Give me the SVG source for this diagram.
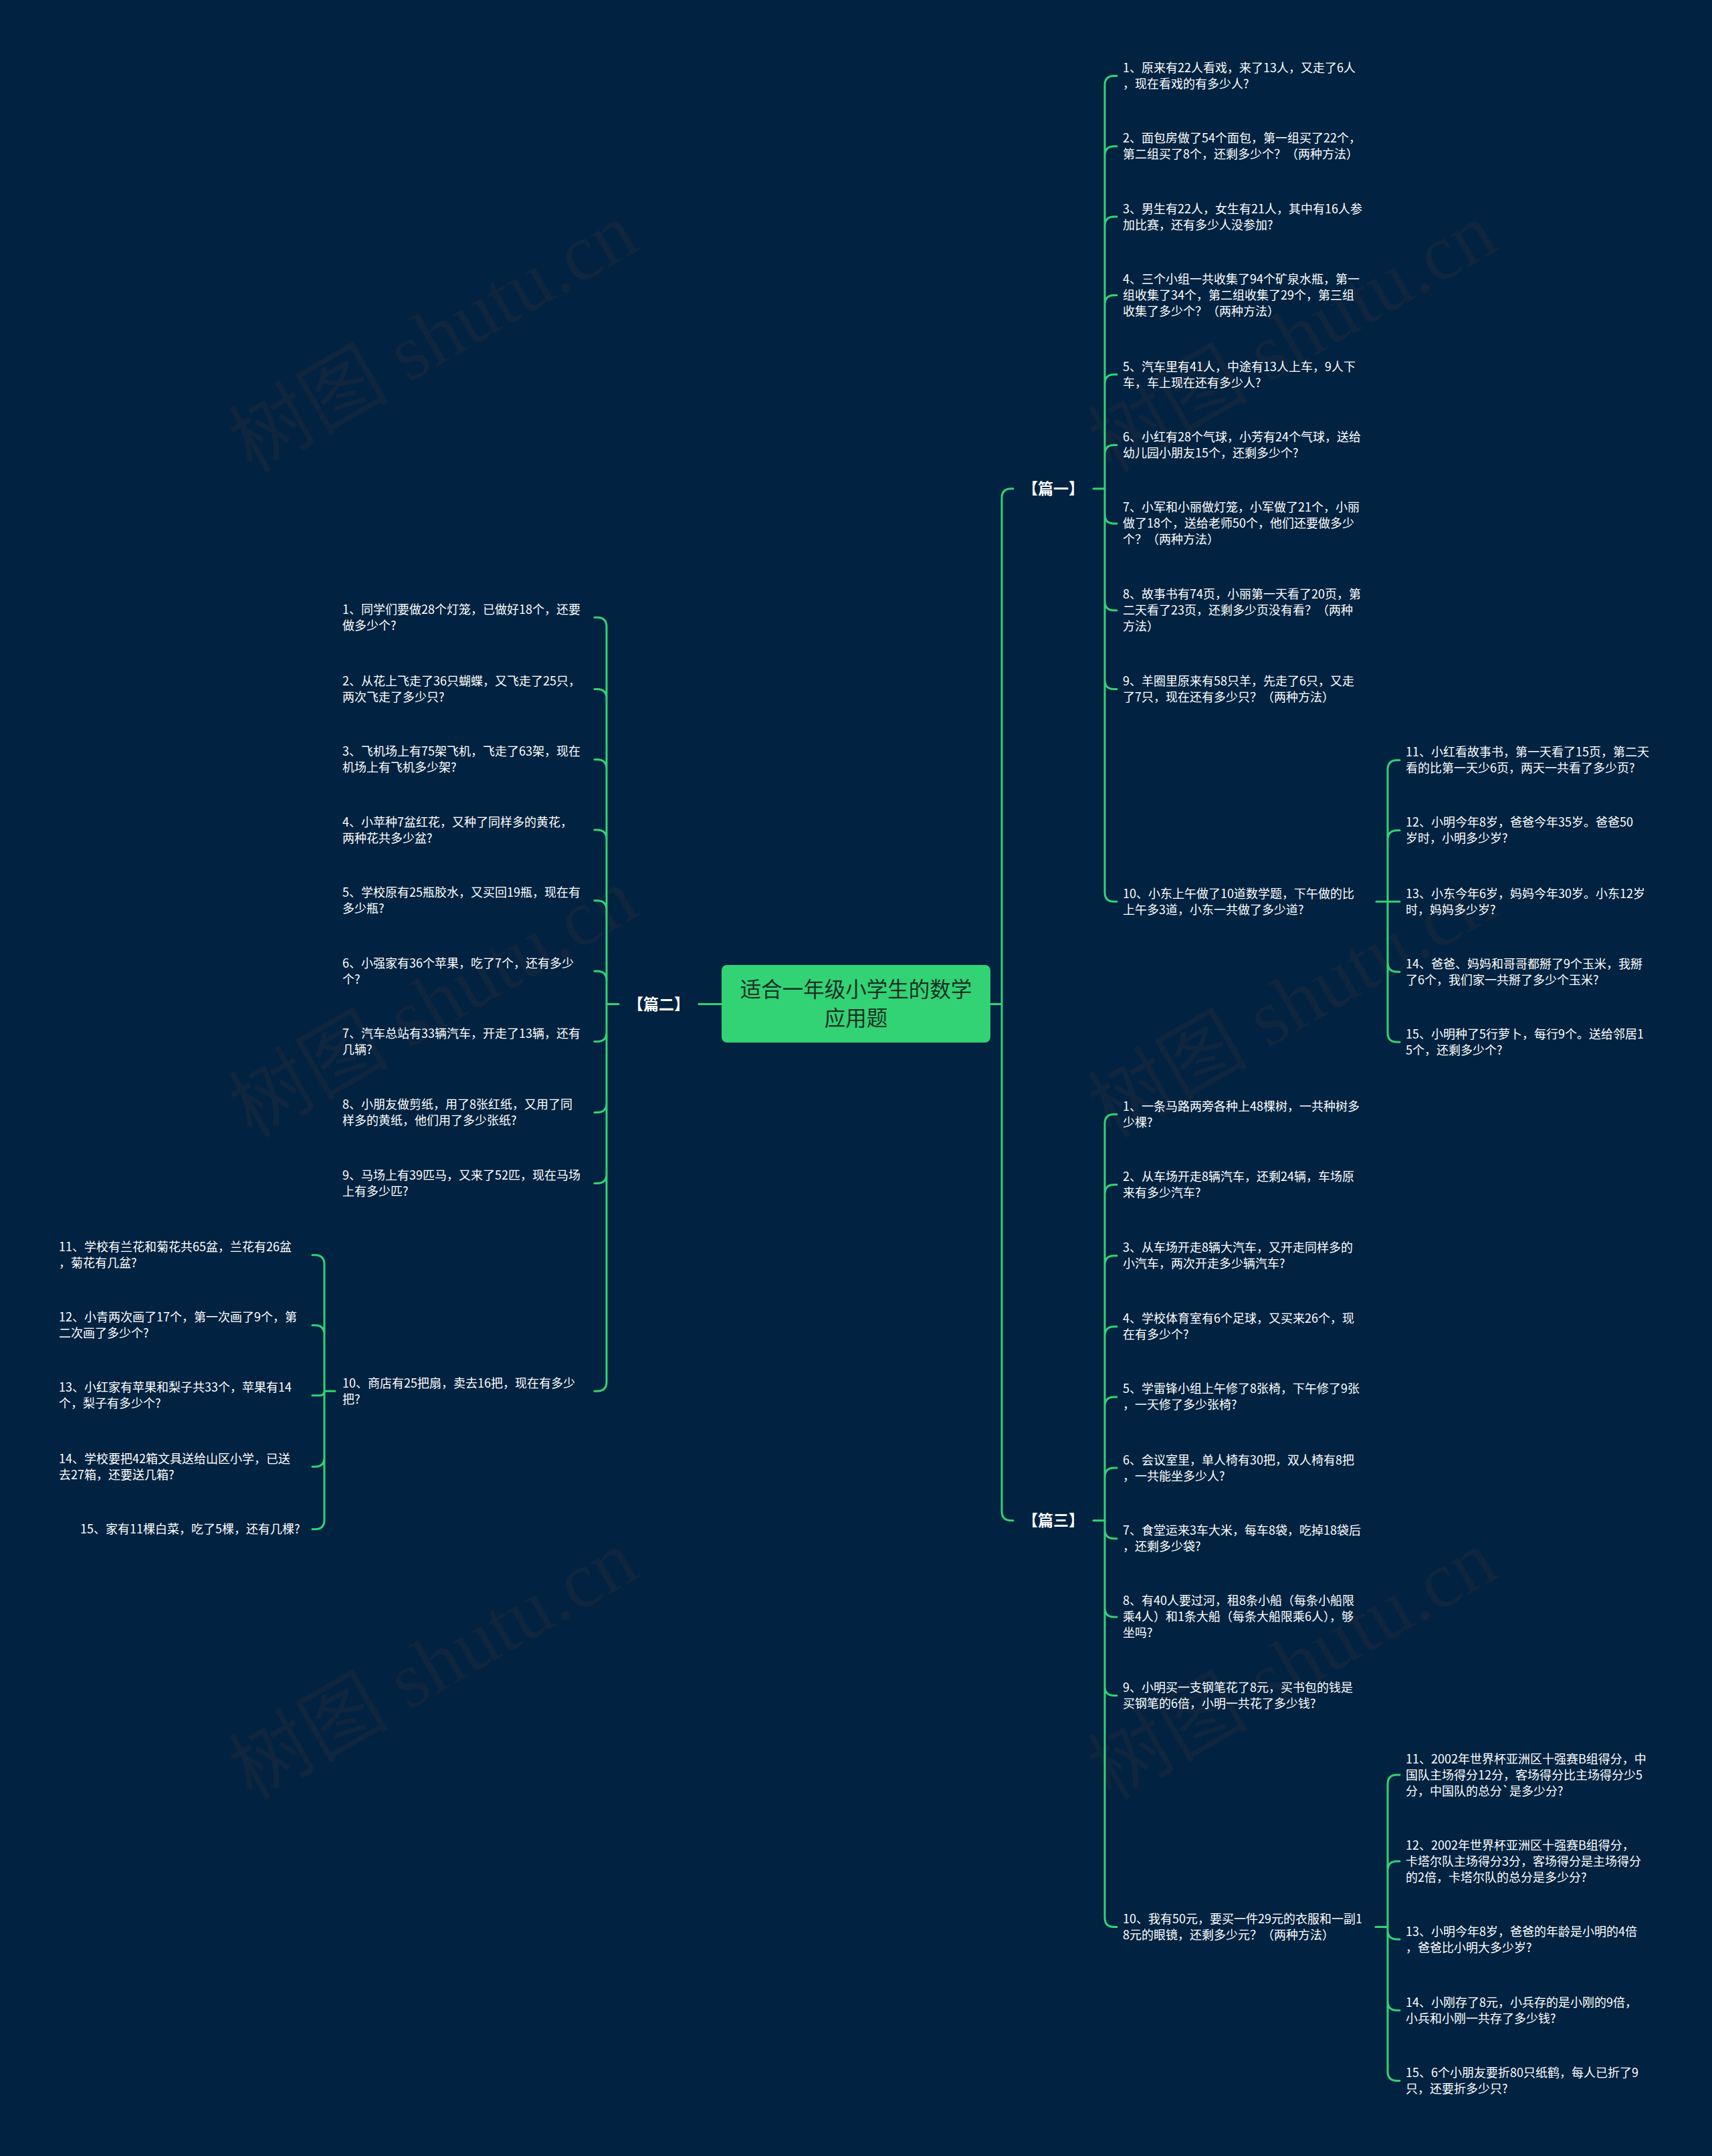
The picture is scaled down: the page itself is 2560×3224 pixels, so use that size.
<svg xmlns="http://www.w3.org/2000/svg" width="2560" height="3224" viewBox="0 0 2560 3224">
<style>
.t{font-family:"Noto Sans CJK SC","Liberation Sans",sans-serif;font-size:18px;fill:#ffffff}
.lbl{font-family:"Noto Sans CJK SC","Liberation Sans",sans-serif;font-size:23px;font-weight:bold;fill:#ffffff;text-anchor:middle}
.title{font-family:"Noto Sans CJK SC","Liberation Sans",sans-serif;font-size:31.5px;fill:#1b2e26;text-anchor:middle}
.c{fill:none;stroke:#32d374;stroke-width:3;stroke-linecap:round;stroke-linejoin:round}
.wm{font-family:"Liberation Serif","Noto Sans CJK SC",serif;font-size:120px;fill:#0f263e;text-anchor:middle}
</style>
<rect x="0" y="0" width="2560" height="3224" fill="#012240"/>
<g id="watermarks">
<text class="wm" x="648" y="545" transform="rotate(-30 648 505)">树图 shutu.cn</text>
<text class="wm" x="1933" y="545" transform="rotate(-30 1933 505)">树图 shutu.cn</text>
<text class="wm" x="648" y="1540" transform="rotate(-30 648 1500)">树图 shutu.cn</text>
<text class="wm" x="1933" y="1540" transform="rotate(-30 1933 1500)">树图 shutu.cn</text>
<text class="wm" x="648" y="2530" transform="rotate(-30 648 2490)">树图 shutu.cn</text>
<text class="wm" x="1933" y="2530" transform="rotate(-30 1933 2490)">树图 shutu.cn</text>
</g>
<g id="connectors">
<path class="c" d="M1481 1501.5 H1498 M1498 1501.5 V744.8 Q1498 730.8 1512 730.8 H1515 M1498 1501.5 V2259.8 Q1498 2273.8 1512 2273.8 H1515"/>
<path class="c" d="M1635 730.8 H1652 M1635 2273.8 H1652 M1079 1501.5 H1045 M925 1501.5 H907"/>
<path class="c" d="M1652 730.8 V127.5 Q1652 113.5 1666 113.5 H1670 M1652 730.8 V232.7 Q1652 218.7 1666 218.7 H1670 M1652 730.8 V338 Q1652 324 1666 324 H1670 M1652 730.8 V455.6 Q1652 441.6 1666 441.6 H1670 M1652 730.8 V574 Q1652 560 1666 560 H1670 M1652 730.8 V679.5 Q1652 665.5 1666 665.5 H1670 M1652 730.8 V768.9 Q1652 782.9 1666 782.9 H1670 M1652 730.8 V898.8 Q1652 912.8 1666 912.8 H1670 M1652 730.8 V1016.5 Q1652 1030.5 1666 1030.5 H1670 M1652 730.8 V1334.3 Q1652 1348.3 1666 1348.3 H1670"/>
<path class="c" d="M2058 1348.3 H2075 M2075 1348.3 V1150.7 Q2075 1136.7 2089 1136.7 H2093 M2075 1348.3 V1255.7 Q2075 1241.7 2089 1241.7 H2093 M2075 1348.3 H2093 M2075 1348.3 V1439.3 Q2075 1453.3 2089 1453.3 H2093 M2075 1348.3 V1544.3 Q2075 1558.3 2089 1558.3 H2093"/>
<path class="c" d="M1652 2273.8 V1680.2 Q1652 1666.2 1666 1666.2 H1670 M1652 2273.8 V1785.6 Q1652 1771.6 1666 1771.6 H1670 M1652 2273.8 V1891.8 Q1652 1877.8 1666 1877.8 H1670 M1652 2273.8 V1997.7 Q1652 1983.7 1666 1983.7 H1670 M1652 2273.8 V2102.9 Q1652 2088.9 1666 2088.9 H1670 M1652 2273.8 V2209.1 Q1652 2195.1 1666 2195.1 H1670 M1652 2273.8 V2286.7 Q1652 2300.7 1666 2300.7 H1670 M1652 2273.8 V2403.9 Q1652 2417.9 1666 2417.9 H1670 M1652 2273.8 V2521.4 Q1652 2535.4 1666 2535.4 H1670 M1652 2273.8 V2867.4 Q1652 2881.4 1666 2881.4 H1670"/>
<path class="c" d="M2057 2881.4 H2075 M2075 2881.4 V2668 Q2075 2654 2089 2654 H2093 M2075 2881.4 V2797.3 Q2075 2783.3 2089 2783.3 H2093 M2075 2881.4 V2886 Q2075 2900 2089 2900 H2093 M2075 2881.4 V2992.3 Q2075 3006.3 2089 3006.3 H2093 M2075 2881.4 V3097.5 Q2075 3111.5 2089 3111.5 H2093"/>
<path class="c" d="M907 1501.5 V937.3 Q907 923.3 893 923.3 H889 M907 1501.5 V1044.5 Q907 1030.5 893 1030.5 H889 M907 1501.5 V1149.8 Q907 1135.8 893 1135.8 H889 M907 1501.5 V1255 Q907 1241 893 1241 H889 M907 1501.5 V1360.7 Q907 1346.7 893 1346.7 H889 M907 1501.5 V1466.3 Q907 1452.3 893 1452.3 H889 M907 1501.5 V1543.5 Q907 1557.5 893 1557.5 H889 M907 1501.5 V1649.5 Q907 1663.5 893 1663.5 H889 M907 1501.5 V1755.5 Q907 1769.5 893 1769.5 H889 M907 1501.5 V2066.2 Q907 2080.2 893 2080.2 H889"/>
<path class="c" d="M501 2080.2 H485 M485 2080.2 V1890.7 Q485 1876.7 471 1876.7 H467 M485 2080.2 V1995.7 Q485 1981.7 471 1981.7 H467 M485 2080.2 Q485 2086.7 478 2086.7 H467 M485 2080.2 V2179.3 Q485 2193.3 471 2193.3 H467 M485 2080.2 V2272.7 Q485 2286.7 471 2286.7 H467"/>
</g>
<g id="root">
<rect x="1079" y="1443" width="402" height="116" rx="8" fill="#32d374"/>
<text class="title" x="1280" y="1490.5">适合一年级小学生的数学</text>
<text class="title" x="1280" y="1533.5">应用题</text>
</g>
<g id="p1"><text class="lbl" x="1575" y="739">【篇一】</text></g>
<g id="p2"><text class="lbl" x="985" y="1509.7">【篇二】</text></g>
<g id="p3"><text class="lbl" x="1575" y="2282">【篇三】</text></g>
<g id="p1-1"><text class="t"><tspan x="1679" y="108">1、原来有22人看戏，来了13人，又走了6人</tspan><tspan x="1679" y="132">，现在看戏的有多少人?</tspan></text></g>
<g id="p1-2"><text class="t"><tspan x="1679" y="213.2">2、面包房做了54个面包，第一组买了22个，</tspan><tspan x="1679" y="237.2">第二组买了8个，还剩多少个？（两种方法）</tspan></text></g>
<g id="p1-3"><text class="t"><tspan x="1679" y="318.5">3、男生有22人，女生有21人，其中有16人参</tspan><tspan x="1679" y="342.5">加比赛，还有多少人没参加?</tspan></text></g>
<g id="p1-4"><text class="t"><tspan x="1679" y="424.1">4、三个小组一共收集了94个矿泉水瓶，第一</tspan><tspan x="1679" y="448.1">组收集了34个，第二组收集了29个，第三组</tspan><tspan x="1679" y="472.1">收集了多少个？（两种方法）</tspan></text></g>
<g id="p1-5"><text class="t"><tspan x="1679" y="554.5">5、汽车里有41人，中途有13人上车，9人下</tspan><tspan x="1679" y="578.5">车，车上现在还有多少人?</tspan></text></g>
<g id="p1-6"><text class="t"><tspan x="1679" y="660">6、小红有28个气球，小芳有24个气球，送给</tspan><tspan x="1679" y="684">幼儿园小朋友15个，还剩多少个?</tspan></text></g>
<g id="p1-7"><text class="t"><tspan x="1679" y="765.4">7、小军和小丽做灯笼，小军做了21个，小丽</tspan><tspan x="1679" y="789.4">做了18个，送给老师50个，他们还要做多少</tspan><tspan x="1679" y="813.4">个？（两种方法）</tspan></text></g>
<g id="p1-8"><text class="t"><tspan x="1679" y="895.3">8、故事书有74页，小丽第一天看了20页，第</tspan><tspan x="1679" y="919.3">二天看了23页，还剩多少页没有看？（两种</tspan><tspan x="1679" y="943.3">方法）</tspan></text></g>
<g id="p1-9"><text class="t"><tspan x="1679" y="1025">9、羊圈里原来有58只羊，先走了6只，又走</tspan><tspan x="1679" y="1049">了7只，现在还有多少只？（两种方法）</tspan></text></g>
<g id="p1-10"><text class="t"><tspan x="1679" y="1342.8">10、小东上午做了10道数学题，下午做的比</tspan><tspan x="1679" y="1366.8">上午多3道，小东一共做了多少道?</tspan></text></g>
<g id="p1-11"><text class="t"><tspan x="2102" y="1131.2">11、小红看故事书，第一天看了15页，第二天</tspan><tspan x="2102" y="1155.2">看的比第一天少6页，两天一共看了多少页?</tspan></text></g>
<g id="p1-12"><text class="t"><tspan x="2102" y="1236.2">12、小明今年8岁，爸爸今年35岁。爸爸50</tspan><tspan x="2102" y="1260.2">岁时，小明多少岁?</tspan></text></g>
<g id="p1-13"><text class="t"><tspan x="2102" y="1342.8">13、小东今年6岁，妈妈今年30岁。小东12岁</tspan><tspan x="2102" y="1366.8">时，妈妈多少岁?</tspan></text></g>
<g id="p1-14"><text class="t"><tspan x="2102" y="1447.8">14、爸爸、妈妈和哥哥都掰了9个玉米，我掰</tspan><tspan x="2102" y="1471.8">了6个，我们家一共掰了多少个玉米?</tspan></text></g>
<g id="p1-15"><text class="t"><tspan x="2102" y="1552.8">15、小明种了5行萝卜，每行9个。送给邻居1</tspan><tspan x="2102" y="1576.8">5个，还剩多少个?</tspan></text></g>
<g id="p3-1"><text class="t"><tspan x="1679" y="1660.7">1、一条马路两旁各种上48棵树，一共种树多</tspan><tspan x="1679" y="1684.7">少棵?</tspan></text></g>
<g id="p3-2"><text class="t"><tspan x="1679" y="1766.1">2、从车场开走8辆汽车，还剩24辆，车场原</tspan><tspan x="1679" y="1790.1">来有多少汽车?</tspan></text></g>
<g id="p3-3"><text class="t"><tspan x="1679" y="1872.3">3、从车场开走8辆大汽车，又开走同样多的</tspan><tspan x="1679" y="1896.3">小汽车，两次开走多少辆汽车?</tspan></text></g>
<g id="p3-4"><text class="t"><tspan x="1679" y="1978.2">4、学校体育室有6个足球，又买来26个，现</tspan><tspan x="1679" y="2002.2">在有多少个?</tspan></text></g>
<g id="p3-5"><text class="t"><tspan x="1679" y="2083.4">5、学雷锋小组上午修了8张椅，下午修了9张</tspan><tspan x="1679" y="2107.4">，一天修了多少张椅?</tspan></text></g>
<g id="p3-6"><text class="t"><tspan x="1679" y="2189.6">6、会议室里，单人椅有30把，双人椅有8把</tspan><tspan x="1679" y="2213.6">，一共能坐多少人?</tspan></text></g>
<g id="p3-7"><text class="t"><tspan x="1679" y="2295.2">7、食堂运来3车大米，每车8袋，吃掉18袋后</tspan><tspan x="1679" y="2319.2">，还剩多少袋?</tspan></text></g>
<g id="p3-8"><text class="t"><tspan x="1679" y="2400.4">8、有40人要过河，租8条小船（每条小船限</tspan><tspan x="1679" y="2424.4">乘4人）和1条大船（每条大船限乘6人），够</tspan><tspan x="1679" y="2448.4">坐吗?</tspan></text></g>
<g id="p3-9"><text class="t"><tspan x="1679" y="2529.9">9、小明买一支钢笔花了8元，买书包的钱是</tspan><tspan x="1679" y="2553.9">买钢笔的6倍，小明一共花了多少钱?</tspan></text></g>
<g id="p3-10"><text class="t"><tspan x="1679" y="2875.9">10、我有50元，要买一件29元的衣服和一副1</tspan><tspan x="1679" y="2899.9">8元的眼镜，还剩多少元？（两种方法）</tspan></text></g>
<g id="p3-11"><text class="t"><tspan x="2102" y="2636.5">11、2002年世界杯亚洲区十强赛B组得分，中</tspan><tspan x="2102" y="2660.5">国队主场得分12分，客场得分比主场得分少5</tspan><tspan x="2102" y="2684.5">分，中国队的总分`是多少分?</tspan></text></g>
<g id="p3-12"><text class="t"><tspan x="2102" y="2765.8">12、2002年世界杯亚洲区十强赛B组得分，</tspan><tspan x="2102" y="2789.8">卡塔尔队主场得分3分，客场得分是主场得分</tspan><tspan x="2102" y="2813.8">的2倍，卡塔尔队的总分是多少分?</tspan></text></g>
<g id="p3-13"><text class="t"><tspan x="2102" y="2894.5">13、小明今年8岁，爸爸的年龄是小明的4倍</tspan><tspan x="2102" y="2918.5">，爸爸比小明大多少岁?</tspan></text></g>
<g id="p3-14"><text class="t"><tspan x="2102" y="3000.8">14、小刚存了8元，小兵存的是小刚的9倍，</tspan><tspan x="2102" y="3024.8">小兵和小刚一共存了多少钱?</tspan></text></g>
<g id="p3-15"><text class="t"><tspan x="2102" y="3106">15、6个小朋友要折80只纸鹤，每人已折了9</tspan><tspan x="2102" y="3130">只，还要折多少只?</tspan></text></g>
<g id="p2-1"><text class="t"><tspan x="512" y="917.8">1、同学们要做28个灯笼，已做好18个，还要</tspan><tspan x="512" y="941.8">做多少个?</tspan></text></g>
<g id="p2-2"><text class="t"><tspan x="512" y="1025">2、从花上飞走了36只蝴蝶，又飞走了25只，</tspan><tspan x="512" y="1049">两次飞走了多少只?</tspan></text></g>
<g id="p2-3"><text class="t"><tspan x="512" y="1130.3">3、飞机场上有75架飞机，飞走了63架，现在</tspan><tspan x="512" y="1154.3">机场上有飞机多少架?</tspan></text></g>
<g id="p2-4"><text class="t"><tspan x="512" y="1235.5">4、小苹种7盆红花，又种了同样多的黄花，</tspan><tspan x="512" y="1259.5">两种花共多少盆?</tspan></text></g>
<g id="p2-5"><text class="t"><tspan x="512" y="1341.2">5、学校原有25瓶胶水，又买回19瓶，现在有</tspan><tspan x="512" y="1365.2">多少瓶?</tspan></text></g>
<g id="p2-6"><text class="t"><tspan x="512" y="1446.8">6、小强家有36个苹果，吃了7个，还有多少</tspan><tspan x="512" y="1470.8">个?</tspan></text></g>
<g id="p2-7"><text class="t"><tspan x="512" y="1552">7、汽车总站有33辆汽车，开走了13辆，还有</tspan><tspan x="512" y="1576">几辆?</tspan></text></g>
<g id="p2-8"><text class="t"><tspan x="512" y="1658">8、小朋友做剪纸，用了8张红纸，又用了同</tspan><tspan x="512" y="1682">样多的黄纸，他们用了多少张纸?</tspan></text></g>
<g id="p2-9"><text class="t"><tspan x="512" y="1764">9、马场上有39匹马，又来了52匹，现在马场</tspan><tspan x="512" y="1788">上有多少匹?</tspan></text></g>
<g id="p2-10"><text class="t"><tspan x="512" y="2074.7">10、商店有25把扇，卖去16把，现在有多少</tspan><tspan x="512" y="2098.7">把?</tspan></text></g>
<g id="p2-11"><text class="t"><tspan x="88" y="1871.2">11、学校有兰花和菊花共65盆，兰花有26盆</tspan><tspan x="88" y="1895.2">，菊花有几盆?</tspan></text></g>
<g id="p2-12"><text class="t"><tspan x="88" y="1976.2">12、小青两次画了17个，第一次画了9个，第</tspan><tspan x="88" y="2000.2">二次画了多少个?</tspan></text></g>
<g id="p2-13"><text class="t"><tspan x="88" y="2081.2">13、小红家有苹果和梨子共33个，苹果有14</tspan><tspan x="88" y="2105.2">个，梨子有多少个?</tspan></text></g>
<g id="p2-14"><text class="t"><tspan x="88" y="2187.8">14、学校要把42箱文具送给山区小学，已送</tspan><tspan x="88" y="2211.8">去27箱，还要送几箱?</tspan></text></g>
<g id="p2-15"><text class="t"><tspan x="120" y="2293.2">15、家有11棵白菜，吃了5棵，还有几棵?</tspan></text></g>
</svg>
